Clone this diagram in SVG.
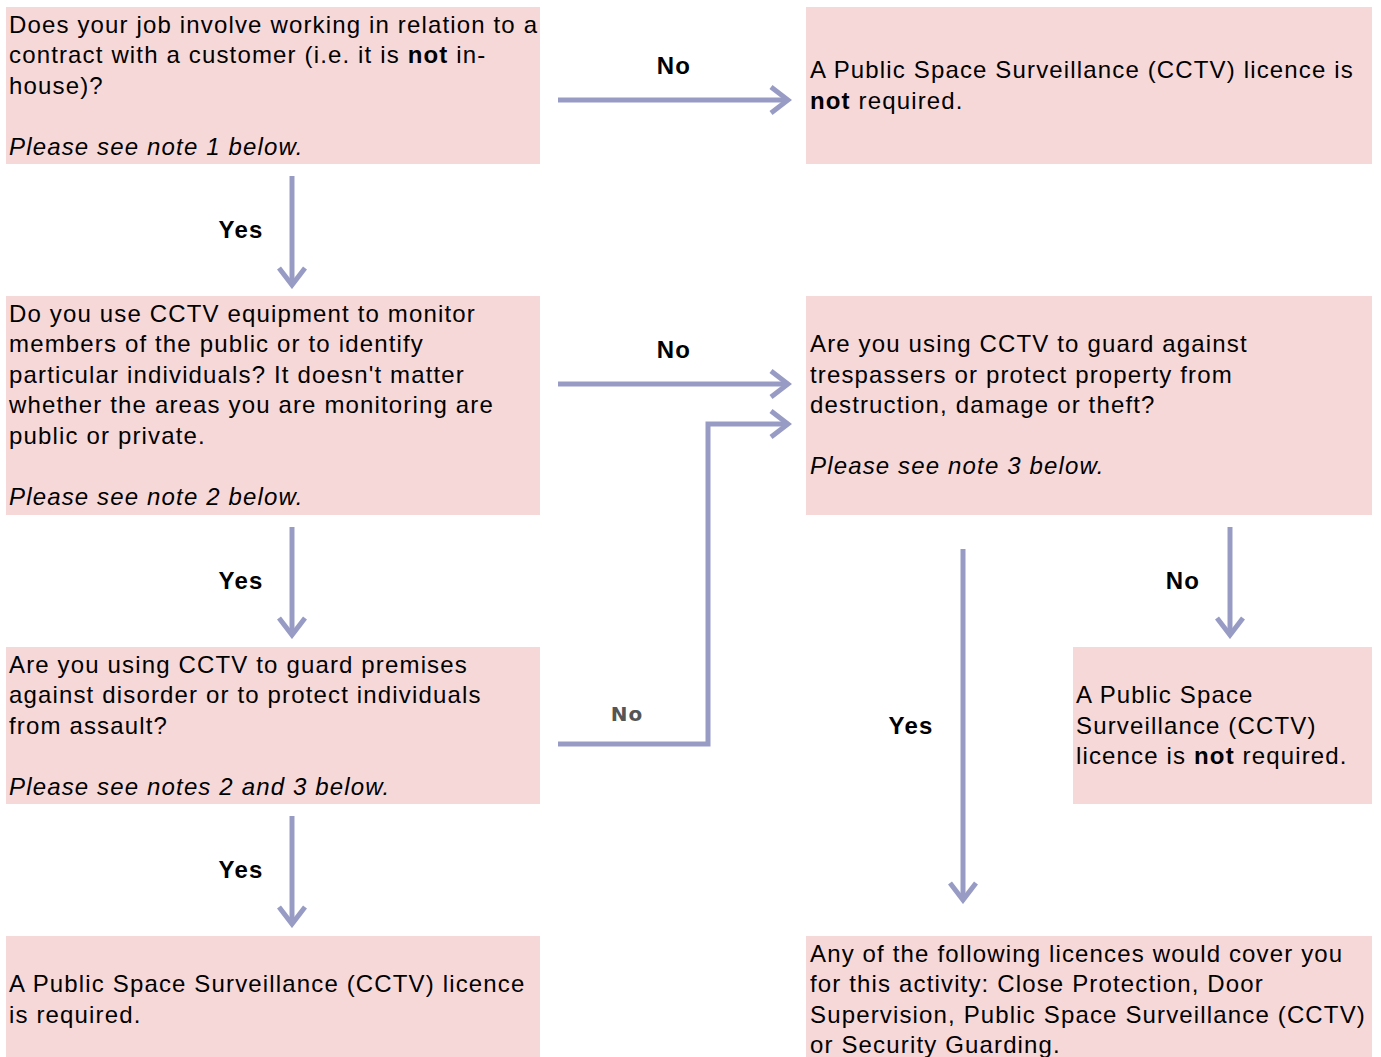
<svg xmlns="http://www.w3.org/2000/svg" width="1381" height="1057" viewBox="0 0 1381 1057">
<defs>
<style>
.box{fill:#f6d8d9;stroke:none}
.t{font-family:"Liberation Sans",Arial,sans-serif;font-size:24px;fill:#000;letter-spacing:1.15px}
.i{font-style:italic}
.b{font-weight:bold}
.lbl{font-family:"Liberation Sans",Arial,sans-serif;font-size:24px;font-weight:bold;fill:#000;letter-spacing:1.15px;text-anchor:middle}
.lbl2{font-family:"DejaVu Sans",Verdana,sans-serif;font-size:20px;font-weight:bold;fill:#555;letter-spacing:1px;text-anchor:middle}
.c{fill:none;stroke:#989cc5;stroke-width:5;stroke-linejoin:miter}
</style>
<marker id="ah" markerUnits="userSpaceOnUse" viewBox="-22 -16 26 32" refX="0" refY="0" markerWidth="26" markerHeight="32" orient="auto">
<path d="M-17,-13 L0,0 L-17,13" fill="none" stroke="#989cc5" stroke-width="5" stroke-linecap="butt"/>
</marker>
</defs>
<rect width="1381" height="1057" fill="#fff"/>

<g id="connectors">
<line class="c" x1="558" y1="100" x2="788" y2="100" marker-end="url(#ah)"/>
<line class="c" x1="292" y1="176" x2="292" y2="285" marker-end="url(#ah)"/>
<line class="c" x1="558" y1="384" x2="788" y2="384" marker-end="url(#ah)"/>
<polyline class="c" points="558,744 708,744 708,424 788,424" marker-end="url(#ah)"/>
<line class="c" x1="292" y1="527" x2="292" y2="635" marker-end="url(#ah)"/>
<line class="c" x1="292" y1="816" x2="292" y2="924" marker-end="url(#ah)"/>
<line class="c" x1="1230" y1="527" x2="1230" y2="635" marker-end="url(#ah)"/>
<line class="c" x1="963" y1="549" x2="963" y2="900" marker-end="url(#ah)"/>
<text class="lbl" x="674" y="74">No</text>
<text class="lbl" x="241" y="238">Yes</text>
<text class="lbl" x="674" y="358">No</text>
<text class="lbl" x="241" y="589">Yes</text>
<text class="lbl2" x="627" y="721">No</text>
<text class="lbl" x="241" y="878">Yes</text>
<text class="lbl" x="1183" y="589">No</text>
<text class="lbl" x="911" y="734">Yes</text>
</g>

<g id="q1">
<rect class="box" x="6" y="7" width="534" height="157"/>
<text class="t" x="9" y="32.5">Does your job involve working in relation to a</text>
<text class="t" x="9" y="63">contract with a customer (i.e. it is <tspan class="b">not</tspan> in-</text>
<text class="t" x="9" y="93.5">house)?</text>
<text class="t i" x="9" y="154.5">Please see note 1 below.</text>
</g>

<g id="r1">
<rect class="box" x="806" y="7" width="566" height="157"/>
<text class="t" x="810" y="78">A Public Space Surveillance (CCTV) licence is</text>
<text class="t" x="810" y="108.5"><tspan class="b">not</tspan> required.</text>
</g>

<g id="q2">
<rect class="box" x="6" y="296" width="534" height="219"/>
<text class="t" x="9" y="321.5">Do you use CCTV equipment to monitor</text>
<text class="t" x="9" y="352">members of the public or to identify</text>
<text class="t" x="9" y="382.5">particular individuals? It doesn't matter</text>
<text class="t" x="9" y="413">whether the areas you are monitoring are</text>
<text class="t" x="9" y="443.5">public or private.</text>
<text class="t i" x="9" y="504.5">Please see note 2 below.</text>
</g>

<g id="q4">
<rect class="box" x="806" y="296" width="566" height="219"/>
<text class="t" x="810" y="352">Are you using CCTV to guard against</text>
<text class="t" x="810" y="382.5">trespassers or protect property from</text>
<text class="t" x="810" y="413">destruction, damage or theft?</text>
<text class="t i" x="810" y="474">Please see note 3 below.</text>
</g>

<g id="q3">
<rect class="box" x="6" y="647" width="534" height="157"/>
<text class="t" x="9" y="672.5">Are you using CCTV to guard premises</text>
<text class="t" x="9" y="703">against disorder or to protect individuals</text>
<text class="t" x="9" y="733.5">from assault?</text>
<text class="t i" x="9" y="794.5">Please see notes 2 and 3 below.</text>
</g>

<g id="r4">
<rect class="box" x="1073" y="647" width="299" height="157"/>
<text class="t" x="1076" y="703">A Public Space</text>
<text class="t" x="1076" y="733.5">Surveillance (CCTV)</text>
<text class="t" x="1076" y="764">licence is <tspan class="b">not</tspan> required.</text>
</g>

<g id="r3">
<rect class="box" x="6" y="936" width="534" height="121"/>
<text class="t" x="9" y="992">A Public Space Surveillance (CCTV) licence</text>
<text class="t" x="9" y="1022.5">is required.</text>
</g>

<g id="r5">
<rect class="box" x="806" y="936" width="566" height="121"/>
<text class="t" x="810" y="961.5">Any of the following licences would cover you</text>
<text class="t" x="810" y="992">for this activity: Close Protection, Door</text>
<text class="t" x="810" y="1022.5">Supervision, Public Space Surveillance (CCTV)</text>
<text class="t" x="810" y="1053">or Security Guarding.</text>
</g>
</svg>
